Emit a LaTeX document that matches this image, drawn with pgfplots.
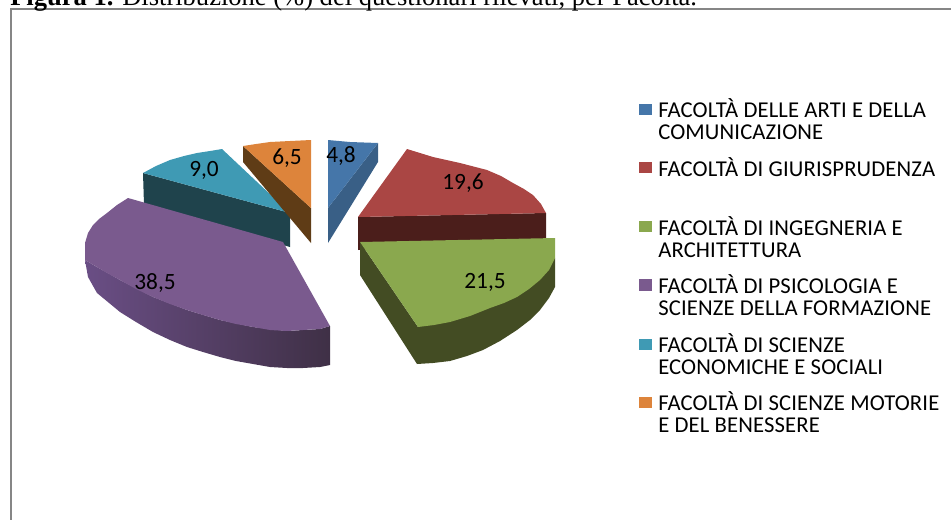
\documentclass[border=0pt]{standalone}
\usepackage{fontspec}
\setmainfont{Carlito}
\newfontfamily\titlefont{Liberation Serif}
\newfontfamily\legfont[LetterSpace=0.6]{Carlito}
\usepackage{pgfplots}
\pgfplotsset{compat=1.18}
\definecolor{blueT}{HTML}{4576A9}
\definecolor{blueS}{HTML}{395F86}
\definecolor{redT}{HTML}{AA4644}
\definecolor{redS}{HTML}{4B1E1B}
\definecolor{greenT}{HTML}{8AA84E}
\definecolor{greenS}{HTML}{434C23}
\definecolor{purpleT}{HTML}{7A5A8E}
\definecolor{purpleL}{HTML}{6A4E85}
\definecolor{purpleD}{HTML}{3F3046}
\definecolor{tealT}{HTML}{3F9AB4}
\definecolor{tealS}{HTML}{1F434C}
\definecolor{orangeT}{HTML}{DD843B}
\definecolor{orangeS}{HTML}{5F3C16}
\definecolor{frame}{HTML}{868686}
\tikzset{
 lab/.style={font=\fontsize{17.5}{19}\selectfont,text=black,inner sep=0pt},
 leg/.style={font=\legfont\fontsize{17}{19}\selectfont,text=black,inner sep=0pt,anchor=west}}
\begin{document}
\begin{tikzpicture}
\clip[use as bounding box] (0,0) rectangle (713.25pt,389.25pt);
\begin{axis}[
 at={(0,0)},anchor=south west,
 scale only axis,width=713.25pt,height=389.25pt,
 xmin=0,xmax=951,ymin=0,ymax=519,y dir=reverse,
 hide axis,clip=false]
% frame
\addplot[frame,line width=1.7pt] coordinates {(11,525) (11,9) (960,9)};
% teal
\addplot[fill=tealS,draw=none] coordinates {(143,173) (290,213) (290,247) (144,205)};
\addplot[fill=tealT,draw=none] coordinates {(143,173) (156,166) (170,160) (184,156) (197,153) (210,151) (222,149) (290,213)};
% orange
\addplot[fill=orangeS,draw=none] coordinates {(243,146) (311,208) (311,243) (243,162)};
\addplot[fill=orangeT,draw=none] coordinates {(243,146) (256,144) (270,142) (290,141) (311,140) (311,208)};
% blue
\addplot[fill=blueS,draw=none] coordinates {(378,143) (328,208) (328,243) (378,162)};
\addplot[fill=blueT,draw=none] coordinates {(328,140) (350,142) (378,143) (328,208)};
% red
\addplot[fill=redS,draw=none] coordinates {(358,217) (546,213) (546,240) (358,250)};
\addplot[fill=redT,draw=none] coordinates {(407,149) (420,153) (433,157) (460,163) (487,170) (501,176) (513,183) (524,189) (533,195) (541,204) (546,213) (358,217)};
% green
\addplot[fill=greenS,draw=none] coordinates {(360,242) (360,275) (417,364) (433,363) (450,361) (467,356) (483,350) (500,341) (517,330) (530,320) (540,310) (549,298) (555,287) (555,258) (418,327)};
\addplot[fill=greenT,draw=none] coordinates {(360,242) (555,238) (555,258) (549,270) (540,280) (529,289) (517,297) (504,303) (490,308) (470,316) (450,322) (434,325) (418,327)};
% purple
\addplot[shade,left color=purpleL,right color=purpleD,draw=none] coordinates {(85,260) (88,277) (97,293) (120,312) (136,322) (153,332) (170,340) (187,347) (203,352) (220,357) (236,361) (253,364) (270,367) (287,368) (303,368) (320,367) (330,365) (330,326) (320,329) (287,331) (253,327) (220,320) (187,310) (153,297) (120,280) (97,267)};
\addplot[fill=purpleT,draw=none] coordinates {(128,198) (283,242) (330,326) (320,329) (303,330) (287,331) (270,330) (253,327) (236,324) (220,320) (203,315) (187,310) (170,304) (153,297) (136,289) (120,280) (107,273) (97,267) (85,260) (85,243) (88,233) (93,225) (99,219) (107,213) (117,205)};
% legend keys
\addplot[fill=blueT,draw=none] coordinates {(639,104) (652,104) (652,115) (639,115)};
\addplot[fill=redT,draw=none] coordinates {(639,162) (652,162) (652,173) (639,173)};
\addplot[fill=greenT,draw=none] coordinates {(639,221) (652,221) (652,232) (639,232)};
\addplot[fill=purpleT,draw=none] coordinates {(639,279) (652,279) (652,291) (639,291)};
\addplot[fill=tealT,draw=none] coordinates {(639,339) (652,339) (652,350) (639,350)};
\addplot[fill=orangeT,draw=none] coordinates {(639,397) (652,397) (652,408) (639,408)};
% data labels
\node[lab] at (axis cs:341,156) {4,8};
\node[lab] at (axis cs:463,183) {19,6};
\node[lab] at (axis cs:485,282) {21,5};
\node[lab] at (axis cs:155,283) {38,5};
\node[lab] at (axis cs:204,170) {9,0};
\node[lab] at (axis cs:287,158) {6,5};
% legend text
\node[leg] at (axis cs:658,108) {FACOLTÀ DELLE ARTI E DELLA};
\node[leg] at (axis cs:658,132) {COMUNICAZIONE};
\node[leg] at (axis cs:658,167) {FACOLTÀ DI GIURISPRUDENZA};
\node[leg] at (axis cs:658,226) {FACOLTÀ DI INGEGNERIA E};
\node[leg] at (axis cs:658,250) {ARCHITETTURA};
\node[leg] at (axis cs:658,284) {FACOLTÀ DI PSICOLOGIA E};
\node[leg] at (axis cs:658,308) {SCIENZE DELLA FORMAZIONE};
\node[leg] at (axis cs:658,343) {FACOLTÀ DI SCIENZE};
\node[leg] at (axis cs:658,367) {ECONOMICHE E SOCIALI};
\node[leg] at (axis cs:658,401) {FACOLTÀ DI SCIENZE MOTORIE};
\node[leg] at (axis cs:658,425) {E DEL BENESSERE};
% title, cut by the top edge as in the scan
\node[anchor=base west,inner sep=0pt,font=\titlefont\fontsize{19.9}{21}\selectfont] at (axis cs:10,5) {\textbf{Figura 1.} Distribuzione (\%) dei questionari rilevati, per Facoltà.};
\end{axis}
\end{tikzpicture}
\end{document}
